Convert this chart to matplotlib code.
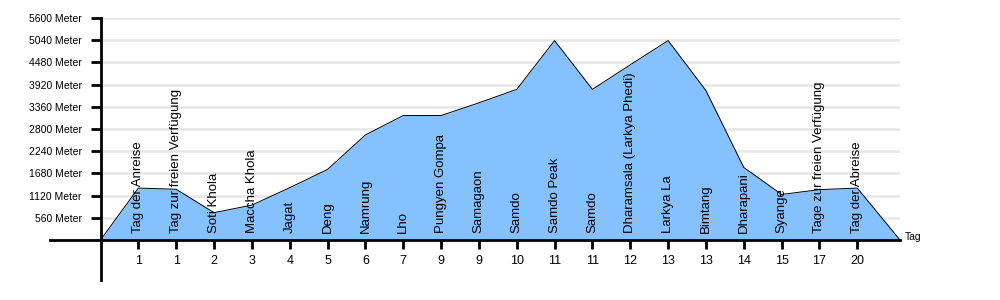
import matplotlib
matplotlib.use("Agg")
import matplotlib.pyplot as plt

places = ["Tag der Anreise", "Tag zur freien Verfügung", "Soti Khola", "Maccha Khola",
          "Jagat", "Deng", "Namrung", "Lho", "Pungyen Gompa", "Samagaon", "Samdo",
          "Samdo Peak", "Samdo", "Dharamsala (Larkya Phedi)", "Larkya La", "Bimtang",
          "Dharapani", "Syange", "Tage zur freien Verfügung", "Tag der Abreise"]
days = ["1", "1", "2", "3", "4", "5", "6", "7", "9", "9", "10", "11", "11", "12",
        "13", "13", "14", "15", "17", "20"]
altitudes = [1310, 1280, 690, 880, 1320, 1780, 2650, 3140, 3140, 3460, 3800,
             5030, 3800, 4420, 5030, 3770, 1830, 1150, 1270, 1310]
yticks = [560, 1120, 1680, 2240, 2800, 3360, 3920, 4480, 5040, 5600]

plt.rcParams['font.family'] = ['Liberation Sans', 'DejaVu Sans']
fig = plt.figure(figsize=(10, 3), dpi=100)
ax = fig.add_axes([0.05, 20/300, 0.85, 1 - 18/300 - 20/300])

n = len(altitudes)
px = 37.84            # pixels per day-slot
x0 = 100.5            # pixel of x = 0
xright = (900 - x0) / px
xs = [0] + list(range(1, n + 1)) + [xright]
ys = [0] + altitudes + [0]

for t in yticks:
    ax.plot([0, xright], [t, t], color='#e6e6e6', lw=1.8, zorder=0)

ax.fill_between(xs, ys, 0, color='#86c1ff', zorder=2, lw=0)
ax.plot(xs, ys, color='black', lw=0.7, zorder=3)

for i, p in enumerate(places):
    ax.text(i + 1, 180, p, rotation=90, ha='center', va='bottom', fontsize=9.5,
            color='black', zorder=4)

ax.set_xlim(-(x0 - 50) / px, xright)
ax.set_ylim(-(280 - 240) * 5600 / 222.0, 5600)

for s in ['top', 'right']:
    ax.spines[s].set_visible(False)
ax.spines['left'].set_position(('data', 0))
ax.spines['bottom'].set_position(('data', 0))
ax.spines['left'].set_linewidth(2)
ax.spines['bottom'].set_linewidth(2)
ax.spines['left'].set_zorder(5)
ax.spines['bottom'].set_zorder(5)

ax.set_yticks(yticks)
ax.set_yticklabels([f"{t} Meter" for t in yticks], fontsize=7.5)
ax.tick_params(axis='y', direction='out', length=7.5, width=2, pad=6)
ax.set_xticks(range(1, n + 1))
ax.set_xticklabels(days, fontsize=9)
ax.tick_params(axis='x', direction='out', length=6.5, width=2, pad=4)

ax.text(xright + 0.12, 75, "Tag", ha='left', va='center', fontsize=7.5, clip_on=False)

fig.savefig("out.png", dpi=100)
